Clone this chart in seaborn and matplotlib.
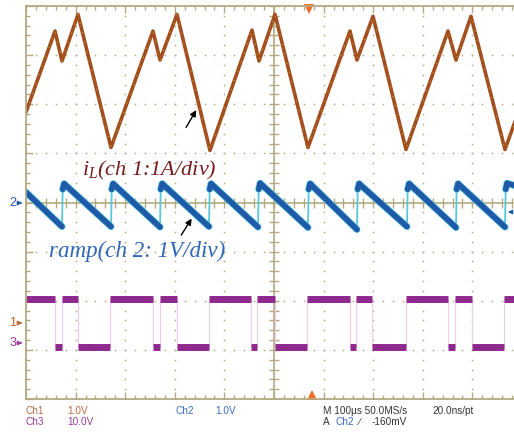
"""
plot.py

Scope capture: inductor current, PWM ramp and gate drive of a peak-current buck stage.
Saves out.png (514x432).
"""

import numpy as np
import pandas as pd
import matplotlib
matplotlib.use("Agg")
import matplotlib.pyplot as plt
from matplotlib.collections import LineCollection
import seaborn as sns

# ---- data (time in us, 100 us/div) ----
# ch1: inductor current iL [A], 1 A/div
IL_T = [0.0, 58.5, 72.6, 104.8, 171.4, 256.0, 270.2, 304.4, 370.9, 455.6, 469.8,
        502.0, 568.5, 653.2, 667.3, 699.6, 766.1, 850.8, 866.9, 897.1, 965.7, 990.0]
IL_A = [4.28, 5.93, 5.32, 6.27, 3.56, 5.93, 5.34, 6.27, 3.50, 5.95, 5.32,
        6.27, 3.56, 5.93, 5.34, 6.23, 3.52, 5.93, 5.34, 6.23, 3.52, 4.20]

# ch2: ramp [V], 1 V/div
RAMP_T = [0.0, 72.6, 74.0, 77.0, 171.4, 172.8, 175.8, 270.2, 271.6, 274.6,
          368.9, 370.3, 373.3, 467.7, 469.1, 472.1, 568.5, 569.9, 572.9,
          667.3, 668.7, 671.7, 768.1, 769.5, 772.5, 866.9, 868.3, 871.3,
          965.7, 967.1, 970.1, 990.0]
RAMP_V = [0.21, -0.49, 0.27, 0.38, -0.49, 0.27, 0.38, -0.50, 0.27, 0.38,
          -0.49, 0.27, 0.38, -0.50, 0.27, 0.39, -0.51, 0.27, 0.38,
          -0.55, 0.27, 0.38, -0.49, 0.27, 0.38, -0.51, 0.27, 0.38,
          -0.50, 0.27, 0.39, 0.33]

# ch3: gate drive [V], 10 V/div (level holds from each edge to the next)
GATE_T = [0.0, 58.5, 72.6, 104.8, 169.3, 256.0, 270.2, 304.4, 368.9, 453.6, 465.7,
          502.0, 566.5, 653.2, 665.3, 697.5, 766.1, 850.8, 864.9, 899.1, 963.6, 990.0]
GATE_V = [9.0, -0.8, 9.0, -0.8, 9.0, -0.8, 9.0, -0.8, 9.0, -0.8, 9.0,
          -0.8, 9.0, -0.8, 9.0, -0.8, 9.0, -0.8, 9.0, -0.8, 9.0, 9.0]

# scale (units/div) and ground-marker position (div) per channel
CH = {
    "ch1": {"scale": 1.0, "offset": -2.44},
    "ch2": {"scale": 1.0, "offset": 0.0},
    "ch3": {"scale": 10.0, "offset": -2.86},
}

GRID = "#b3aa82"
C_IL = "#a24e1e"
C_RAMP = "#1f5aa8"
C_RAMP_EDGE = "#56c8dc"
C_GATE = "#8e2a8e"
C_GATE_EDGE = "#f2cdf2"
C_ORANGE = "#f26b2a"

W, H = 514, 432


def to_div(values, ch):
    return np.asarray(values) / CH[ch]["scale"] + CH[ch]["offset"]


il = pd.DataFrame({"t": IL_T, "div": to_div(IL_A, "ch1")})
ramp = pd.DataFrame({"t": RAMP_T, "div": to_div(RAMP_V, "ch2")})
gate = pd.DataFrame({"t": GATE_T, "div": to_div(GATE_V, "ch3")})

sns.set_theme(style="white")
plt.rcParams["font.family"] = ["Liberation Sans", "DejaVu Sans"]
plt.rcParams["mathtext.fontset"] = "custom"
plt.rcParams["mathtext.it"] = "Liberation Serif:italic"
plt.rcParams["mathtext.rm"] = "Liberation Serif"

fig = plt.figure(figsize=(W / 100, H / 100), dpi=100)
fig.patch.set_facecolor("white")
# screen: 10 x 8 div, right edge falls just outside the capture
ax = fig.add_axes([26 / W, 1 - 399 / H, 496 / W, 393 / H])
ax.set_facecolor("white")
ax.set_xlim(0, 1000)
ax.set_ylim(-4, 4)

# graticule
for s in ["left", "top", "bottom", "right"]:
    ax.spines[s].set_color(GRID)
    ax.spines[s].set_linewidth(1.3)
ax.set_xticks(np.arange(0, 1001, 100))
ax.set_xticks(np.arange(0, 1001, 20), minor=True)
ax.set_yticks(np.arange(-4, 4.1, 1))
ax.set_yticks(np.arange(-4, 4.1, 0.2), minor=True)
ax.tick_params(which="both", direction="in", top=True, bottom=True, left=True, right=True,
               labelleft=False, labelbottom=False, color=GRID, width=1)
ax.tick_params(which="major", length=5)
ax.tick_params(which="minor", length=3)
ax.grid(False)

dot_y = np.arange(-4, 4.01, 0.2)
dot_x = np.arange(0, 1001, 20)
for xd in [100, 200, 300, 400, 600, 700, 800, 900]:
    ax.plot(np.full_like(dot_y, xd), dot_y, ls="none", marker="s", ms=1.1, color=GRID, mew=0)
for yd in [-3, -2, -1, 1, 2, 3]:
    ax.plot(dot_x, np.full_like(dot_x, yd, dtype=float), ls="none", marker="s", ms=1.1,
            color=GRID, mew=0)
ax.axhline(0, color=GRID, lw=1.2)
ax.axvline(500, color=GRID, lw=1.2)
ax.plot(dot_x, np.zeros_like(dot_x, dtype=float), ls="none", marker="|", ms=7, mew=1, color=GRID)
ax.plot(np.full_like(dot_y, 500), dot_y, ls="none", marker="_", ms=7, mew=1, color=GRID)

# ch3 gate: faint edges + thick levels
sns.lineplot(data=gate, x="t", y="div", ax=ax, estimator=None, sort=False,
             drawstyle="steps-post", color=C_GATE_EDGE, lw=0.9)
ax.hlines(gate["div"][:-1], gate["t"][:-1] + 0.8, gate["t"][1:] - 0.8,
          color=C_GATE, lw=5)

# ch2 ramp: thin reset edges, thick noisy slope
sns.lineplot(data=ramp, x="t", y="div", ax=ax, estimator=None, sort=False,
             color=C_RAMP_EDGE, lw=1.3)
pts = ramp[["t", "div"]].to_numpy()
segs = [pts[i:i + 2] for i in range(len(pts) - 1) if pts[i + 1, 1] - pts[i, 1] < 0.5]
ax.add_collection(LineCollection(segs, colors=C_RAMP_EDGE, linewidths=5.0, capstyle="round"))
ax.add_collection(LineCollection(segs, colors=C_RAMP, linewidths=4.0, capstyle="round"))

# ch1 inductor current
sns.lineplot(data=il, x="t", y="div", ax=ax, estimator=None, sort=False,
             color=C_IL, lw=2.6)
ax.plot(il["t"], il["div"], color="#e6c22a", lw=0.7, dashes=(1, 9), alpha=0.8)
ax.set_xlabel("")
ax.set_ylabel("")

# trace labels and pointers
ax.text(248, 0.66, r"$i_L$(ch 1:1A/div)", color="#761b1b", fontsize=16,
        family="Liberation Serif", style="italic", ha="center", va="center")
ax.text(224, -1.0, "ramp(ch 2: 1V/div)", color="#2f66b8", fontsize=16.6,
        family="Liberation Serif", style="italic", ha="center", va="center")
arrow = dict(arrowstyle="-|>", color="black", lw=1.0, mutation_scale=9)
ax.annotate("", xy=(346, 1.93), xytext=(320, 1.48), arrowprops=arrow)
ax.annotate("", xy=(337, -0.28), xytext=(310, -0.71), arrowprops=arrow)

# trigger position markers
ax.plot([570], [3.93], marker="v", ms=7, color=C_ORANGE, clip_on=False, mew=0)
ax.plot([576], [-3.91], marker="^", ms=7, color=C_ORANGE, clip_on=False, mew=0)

# channel ground markers (left) and trigger level (right)
marker_arrow = dict(arrowstyle="-|>", lw=1.0, mutation_scale=6)
for label, py, col in [("2", 203, C_RAMP), ("1", 323, "#c0622e"), ("3", 343, "#9b3a9b")]:
    fig.text(13 / W, 1 - py / H, label, color=col, fontsize=9, ha="center", va="center")
    ax.annotate("", xy=(25, H - py), xytext=(17, H - py), xycoords="figure pixels",
                textcoords="figure pixels", arrowprops=dict(marker_arrow, color=col))
ax.annotate("", xy=(505, H - 212), xytext=(514, H - 212), xycoords="figure pixels",
            textcoords="figure pixels", arrowprops=dict(marker_arrow, color=C_RAMP))

# status bar
status = [
    ("Ch1", 26, 411, "#b86a44"), ("1.0V", 67, 411, "#b86a44"),
    ("Ch3", 26, 422, "#9b3a9b"), ("10.0V", 67, 422, "#9b3a9b"),
    ("Ch2", 175, 411, "#3c6cc0"), ("1.0V", 215, 411, "#3c6cc0"),
    ("M 100\u00b5s 50.0MS/s", 323, 411, "#333333"), ("20.0ns/pt", 432, 411, "#333333"),
    ("A", 323, 422, "#333333"), ("Ch2", 335, 422, "#3c6cc0"),
    ("\u2215", 358, 422, "#333333"), ("-160mV", 372, 422, "#333333"),
]
for txt, px, py, col in status:
    fig.text(px / W, 1 - py / H, txt, color=col, fontsize=7.2, ha="left", va="center")

fig.savefig("out.png", dpi=100)
plt.close(fig)
